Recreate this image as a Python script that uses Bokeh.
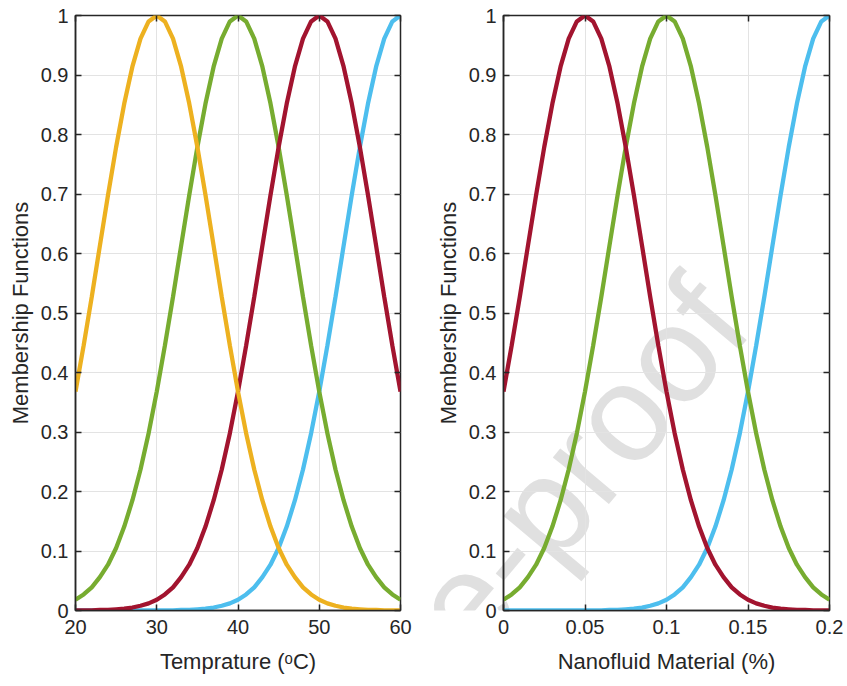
from bokeh.plotting import figure
from bokeh.models import Range1d, LinearAxis, FixedTicker, Label, GridBox
from bokeh.embed import file_html
from bokeh.resources import INLINE

# ---------------- data ----------------
temp_x = list(range(20, 61))
temp_mf_30 = [0.368, 0.445, 0.527, 0.613, 0.698, 0.779, 0.852, 0.914, 0.961, 0.990, 1.000,
              0.990, 0.961, 0.914, 0.852, 0.779, 0.698, 0.613, 0.527, 0.445, 0.368,
              0.298, 0.237, 0.185, 0.141, 0.105, 0.077, 0.056, 0.039, 0.027, 0.018,
              0.012, 0.008, 0.005, 0.003, 0.002, 0.001, 0.001, 0.000, 0.000, 0.000]
temp_mf_40 = [0.018, 0.027, 0.039, 0.056, 0.077, 0.105, 0.141, 0.185, 0.237, 0.298,
              0.368, 0.445, 0.527, 0.613, 0.698, 0.779, 0.852, 0.914, 0.961, 0.990, 1.000,
              0.990, 0.961, 0.914, 0.852, 0.779, 0.698, 0.613, 0.527, 0.445, 0.368,
              0.298, 0.237, 0.185, 0.141, 0.105, 0.077, 0.056, 0.039, 0.027, 0.018]
temp_mf_50 = [0.000, 0.000, 0.000, 0.001, 0.001, 0.002, 0.003, 0.005, 0.008, 0.012,
              0.018, 0.027, 0.039, 0.056, 0.077, 0.105, 0.141, 0.185, 0.237, 0.298,
              0.368, 0.445, 0.527, 0.613, 0.698, 0.779, 0.852, 0.914, 0.961, 0.990, 1.000,
              0.990, 0.961, 0.914, 0.852, 0.779, 0.698, 0.613, 0.527, 0.445, 0.368]
temp_mf_60 = [0.000, 0.000, 0.000, 0.000, 0.000, 0.000, 0.000, 0.000, 0.000, 0.000,
              0.000, 0.000, 0.000, 0.001, 0.001, 0.002, 0.003, 0.005, 0.008, 0.012,
              0.018, 0.027, 0.039, 0.056, 0.077, 0.105, 0.141, 0.185, 0.237, 0.298,
              0.368, 0.445, 0.527, 0.613, 0.698, 0.779, 0.852, 0.914, 0.961, 0.990, 1.000]

nano_x = [0.000, 0.005, 0.010, 0.015, 0.020, 0.025, 0.030, 0.035, 0.040, 0.045,
          0.050, 0.055, 0.060, 0.065, 0.070, 0.075, 0.080, 0.085, 0.090, 0.095,
          0.100, 0.105, 0.110, 0.115, 0.120, 0.125, 0.130, 0.135, 0.140, 0.145,
          0.150, 0.155, 0.160, 0.165, 0.170, 0.175, 0.180, 0.185, 0.190, 0.195, 0.200]
nano_mf_005 = [0.368, 0.445, 0.527, 0.613, 0.698, 0.779, 0.852, 0.914, 0.961, 0.990, 1.000,
               0.990, 0.961, 0.914, 0.852, 0.779, 0.698, 0.613, 0.527, 0.445, 0.368,
               0.298, 0.237, 0.185, 0.141, 0.105, 0.077, 0.056, 0.039, 0.027, 0.018,
               0.012, 0.008, 0.005, 0.003, 0.002, 0.001, 0.001, 0.000, 0.000, 0.000]
nano_mf_010 = [0.018, 0.027, 0.039, 0.056, 0.077, 0.105, 0.141, 0.185, 0.237, 0.298,
               0.368, 0.445, 0.527, 0.613, 0.698, 0.779, 0.852, 0.914, 0.961, 0.990, 1.000,
               0.990, 0.961, 0.914, 0.852, 0.779, 0.698, 0.613, 0.527, 0.445, 0.368,
               0.298, 0.237, 0.185, 0.141, 0.105, 0.077, 0.056, 0.039, 0.027, 0.018]
nano_mf_020 = [0.000, 0.000, 0.000, 0.000, 0.000, 0.000, 0.000, 0.000, 0.000, 0.000,
               0.000, 0.000, 0.000, 0.001, 0.001, 0.002, 0.003, 0.005, 0.008, 0.012,
               0.018, 0.027, 0.039, 0.056, 0.077, 0.105, 0.141, 0.185, 0.237, 0.298,
               0.368, 0.445, 0.527, 0.613, 0.698, 0.779, 0.852, 0.914, 0.961, 0.990, 1.000]

temp_ticks = [20, 30, 40, 50, 60]
temp_tick_labels = ["20", "30", "40", "50", "60"]
nano_ticks = [0, 0.05, 0.1, 0.15, 0.2]
nano_tick_labels = ["0", "0.05", "0.1", "0.15", "0.2"]
y_ticks = [0, 0.1, 0.2, 0.3, 0.4, 0.5, 0.6, 0.7, 0.8, 0.9, 1]
y_tick_labels = ["0", "0.1", "0.2", "0.3", "0.4", "0.5", "0.6", "0.7", "0.8", "0.9", "1"]

y_label = "Membership Functions"
temp_label = "Temprature (\u1d52C)"
nano_label = "Nanofluid Material (%)"
watermark = "Pre-proof"

# ---------------- styling ----------------
FONT = "Liberation Sans"
INK = "#262626"
YELLOW = "#EDB120"
GREEN = "#77AC30"
RED = "#A2142F"
BLUE = "#4DBEEE"
LW = 4.3
W, H = 847, 686


def style_axis(ax, ticks, labels=None, show_labels=True):
    ax.ticker = FixedTicker(ticks=ticks)
    ax.major_tick_in = 6
    ax.major_tick_out = 0
    ax.minor_tick_line_color = None
    ax.major_tick_line_color = INK
    ax.major_tick_line_width = 1.5
    ax.axis_line_color = INK
    ax.axis_line_width = 1.5
    if show_labels:
        ax.major_label_overrides = dict(zip(ticks, labels))
        ax.major_label_text_font = FONT
        ax.major_label_text_font_size = "20px"
        ax.major_label_text_color = INK
        ax.axis_label_text_font = FONT
        ax.axis_label_text_font_size = "22px"
        ax.axis_label_text_font_style = "normal"
        ax.axis_label_text_color = INK
    else:
        ax.major_label_overrides = {t: "" for t in ticks}
        ax.major_label_text_font_size = "10px"
        ax.major_label_standoff = 0


def make_fig(width, xr, xticks, xlabels, xlab, bl, br):
    p = figure(width=width, height=H, x_range=xr, y_range=Range1d(0, 1),
               output_backend="svg", toolbar_location=None,
               min_border_left=bl, min_border_right=br,
               min_border_top=15, min_border_bottom=76)
    p.background_fill_color = None
    p.border_fill_color = None
    p.outline_line_color = INK
    p.outline_line_width = 1.5
    style_axis(p.xaxis[0], xticks, xlabels)
    style_axis(p.yaxis[0], y_ticks, y_tick_labels)
    p.xaxis[0].axis_label = xlab
    p.yaxis[0].axis_label = y_label
    p.xaxis[0].major_label_standoff = 9
    p.xaxis[0].axis_label_standoff = 12
    p.yaxis[0].major_label_standoff = 7
    p.yaxis[0].axis_label_standoff = 5
    p.xgrid.ticker = FixedTicker(ticks=xticks)
    p.ygrid.ticker = FixedTicker(ticks=y_ticks)
    for g in (p.xgrid[0], p.ygrid[0]):
        g.grid_line_color = "#e3e3e3"
        g.grid_line_width = 1
    top = LinearAxis()
    style_axis(top, xticks, show_labels=False)
    top.axis_line_color = None
    p.add_layout(top, "above")
    right = LinearAxis()
    style_axis(right, y_ticks, show_labels=False)
    right.axis_line_color = None
    p.add_layout(right, "right")
    return p


p1 = make_fig(430, Range1d(20, 60), temp_ticks, temp_tick_labels, temp_label, 75, 30)
p1.line(temp_x, temp_mf_60, line_color=BLUE, line_width=LW)
p1.line(temp_x, temp_mf_40, line_color=GREEN, line_width=LW)
p1.line(temp_x, temp_mf_50, line_color=RED, line_width=LW)
p1.line(temp_x, temp_mf_30, line_color=YELLOW, line_width=LW)

p2 = make_fig(W - 430, Range1d(0, 0.2), nano_ticks, nano_tick_labels, nano_label, 73, 18)
p2.line(nano_x, nano_mf_020, line_color=BLUE, line_width=LW)
p2.line(nano_x, nano_mf_010, line_color=GREEN, line_width=LW)
p2.line(nano_x, nano_mf_005, line_color=RED, line_width=LW)

# background layer carrying the watermark that runs across both panels
bg = figure(width=W, height=H, x_range=Range1d(0, W), y_range=Range1d(H, 0),
            output_backend="svg", toolbar_location=None,
            min_border=0, x_axis_type=None, y_axis_type=None)
bg.grid.visible = False
bg.outline_line_color = None
bg.background_fill_color = "white"
bg.border_fill_color = "white"
bg.add_layout(Label(x=515, y=580, text=watermark, angle=50, angle_units="deg",
                    text_align="center", text_baseline="middle", text_font=FONT,
                    text_font_size="138px", text_color="#e0e0e0"))

layout = GridBox(children=[(bg, 0, 0, 1, 2), (p1, 0, 0), (p2, 0, 1)])
open("out.html", "w").write(file_html(layout, INLINE))
